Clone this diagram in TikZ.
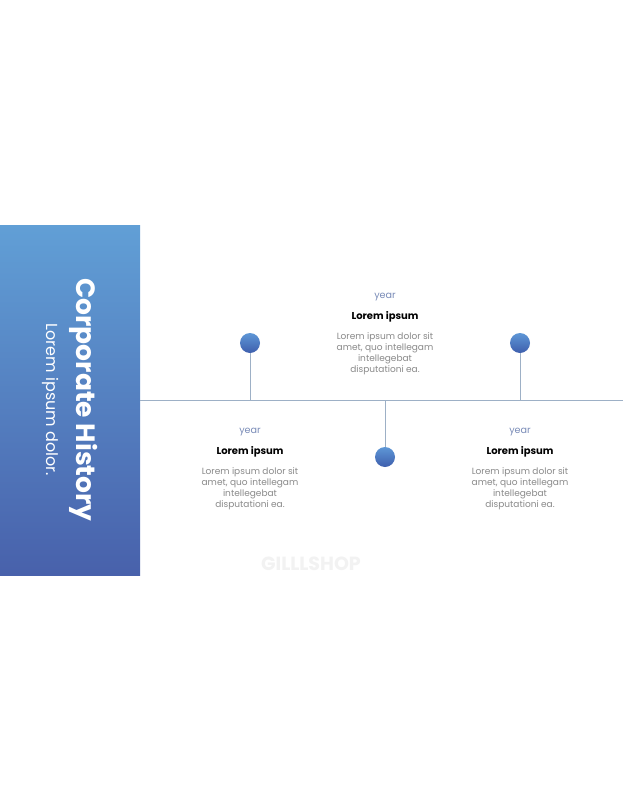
\documentclass[tikz,border=0pt]{standalone}
\usepackage{fontspec}
\setmainfont{Poppins}
\definecolor{paneltop}{HTML}{619FD6}
\definecolor{panelbot}{HTML}{4861AB}
\definecolor{dottop}{HTML}{5E97D6}
\definecolor{dotbot}{HTML}{3E5EAD}
\definecolor{lineblue}{HTML}{9DB0C6}
\definecolor{yearblue}{HTML}{7A8CB8}
\definecolor{bodygray}{HTML}{8A8A8A}
\definecolor{markgray}{HTML}{F2F2F2}
\begin{document}
\begin{tikzpicture}[x=1pt,y=-1pt,
  dot/.style={circle,minimum size=20pt,inner sep=0pt,top color=dottop,bottom color=dotbot},
  stem/.style={draw=lineblue,line width=.8pt},
  yearlab/.style={font=\fontsize{9.6}{11}\selectfont,text=yearblue},
  head/.style={font=\bfseries\fontsize{10}{12}\selectfont,text=black},
  body/.style={align=center,font=\fontsize{9}{11}\selectfont,text=bodygray}]
  \useasboundingbox[fill=white] (0,0) rectangle (623,800);
  % side panel
  \fill[top color=paneltop,bottom color=panelbot] (0,225) rectangle (140,575);
  \node[rotate=-90,font=\bfseries\fontsize{26.5}{30}\selectfont,text=white] (title) at (84,400) {Corporate History};
  \node[rotate=-90,font=\fontsize{16}{19}\selectfont,text=white] (subtitle) at (51,400) {Lorem ipsum dolor.};
  % timeline
  \coordinate (tl0) at (140,400);
  \coordinate (tl1) at (623,400);
  \draw[stem] (tl0) -- (tl1);
  \foreach \i/\x/\dy/\ty in {1/250/343/432,2/385/457/297,3/520/343/432} {
    \node[dot] (dot\i) at (\x,\dy) {};
    \draw[stem] (dot\i) -- (dot\i |- tl0);
    \node[yearlab] (year\i) at (\x,\ty) {year};
    \node[head] (head\i) at (\x,\ty+20) {Lorem ipsum};
    \node[body] (body\i) at (\x,\ty+57) {Lorem ipsum dolor sit\\amet, quo intellegam\\intellegebat\\disputationi ea.};
  }
  \node[font=\bfseries\fontsize{19}{22}\selectfont,text=markgray] (mark) at (311,564) {GILLLSHOP};
\end{tikzpicture}
\end{document}
